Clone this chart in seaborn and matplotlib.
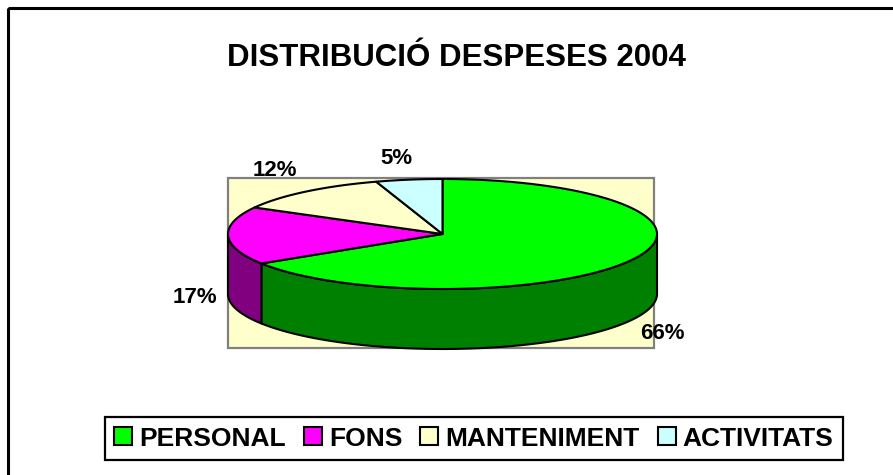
import numpy as np
import matplotlib
matplotlib.use('Agg')
import matplotlib.pyplot as plt
from matplotlib.patches import Rectangle, Patch
import seaborn as sns

# Expense distribution 2004 (percent)
categories = ['PERSONAL', 'FONS', 'MANTENIMENT', 'ACTIVITATS']
shares = [66, 17, 12, 5]
top_colors = ['#00FF00', '#FF00FF', '#FFFFCC', '#CCFFFF']
side_colors = ['#008000', '#800080', '#99997A', '#7A9999']
# label baseline positions (pixels)
label_pos = [(662, 339), (195, 303), (274.5, 176), (396, 164)]

sns.set_theme(style='white')
plt.rcParams['font.family'] = ['Liberation Sans', 'DejaVu Sans']
plt.rcParams['text.color'] = 'black'

fig = plt.figure(figsize=(8.93, 4.75), dpi=100)
ax = fig.add_axes([0, 0, 1, 1])
ax.set_xlim(0, 893)
ax.set_ylim(475, 0)
ax.axis('off')

# chart frame (cut off at right/bottom)
ax.add_patch(Rectangle((7.5, 7.5), 1000, 1000, fill=False, lw=2.2, ec='black'))

# plot area
ax.add_patch(Rectangle((228, 178), 426, 170, fc='#FFFFCC', ec='#808080', lw=1.6))

# 3d pie geometry
cx, cy, rx, ry, depth = 442.5, 234, 214.5, 55, 60


def ell(t, dy=0.0):
    t = np.radians(t)
    return cx + rx * np.cos(t), cy - ry * np.sin(t) + dy


fracs = np.array(shares) / sum(shares)
ends = 90 - 360 * np.cumsum(fracs)
starts = ends + 360 * fracs

# side walls (front half only)
for a, b, col in zip(ends, starts, side_colors):
    for lo, hi in [(-540, -360), (-180, 0), (180, 360)]:
        l, h = max(a, lo), min(b, hi)
        if h > l:
            t = np.linspace(l, h, 120)
            x, y = ell(t)
            xb, yb = ell(t[::-1], depth)
            ax.fill(np.r_[x, xb], np.r_[y, yb], fc=col, ec='black', lw=1.5,
                    joinstyle='round')

# top faces
for a, b, col in zip(ends, starts, top_colors):
    t = np.linspace(b, a, 240)
    x, y = ell(t)
    ax.fill(np.r_[cx, x], np.r_[cy, y], fc=col, ec='black', lw=1.5,
            joinstyle='round')

# percentage labels
for s, (lx, ly) in zip(shares, label_pos):
    ax.text(lx, ly, f'{s}%', ha='center', va='baseline', fontsize=16,
            fontweight='bold', color='black')

ax.text(456.5, 66, 'DISTRIBUCIÓ DESPESES 2004', ha='center', va='baseline',
        fontsize=22.5, fontweight='bold', color='black')

handles = [Patch(fc=c, ec='black', lw=1.5) for c in top_colors]
leg = fig.legend(handles, categories, loc='center',
                 bbox_to_anchor=(474 / 893, 1 - 438.5 / 475), ncol=4,
                 prop={'weight': 'bold', 'size': 19}, frameon=True,
                 fancybox=False, edgecolor='black', framealpha=1,
                 handlelength=0.68, handleheight=0.68, handletextpad=0.27,
                 columnspacing=0.68, borderpad=0.35, labelcolor='black')
leg.get_frame().set_linewidth(1.6)

fig.savefig('out.png', dpi=100)
